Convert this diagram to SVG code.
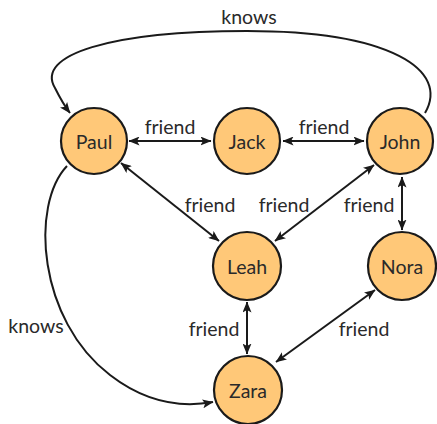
<svg xmlns="http://www.w3.org/2000/svg" width="437" height="424" viewBox="0 0 437 424">
<style>
.node circle{fill:#FFC878;stroke:#1a1a1a;stroke-width:2.2}
text{font-family:Lato,"Open Sans","Liberation Sans",sans-serif;font-size:19.5px;fill:#2a2a2a;text-anchor:middle;dominant-baseline:central}
.edge{fill:none;stroke:#1a1a1a;stroke-width:2}
</style>
<defs>
<marker id="ah" viewBox="0 0 11 9" refX="10.5" refY="4.5" markerWidth="11" markerHeight="9" markerUnits="userSpaceOnUse" orient="auto-start-reverse">
<path d="M0,0 L11,4.5 L0,9 L2.5,4.5 z" fill="#1a1a1a"/>
</marker>
</defs>
<rect width="437" height="424" fill="#fff"/>
<g id="connectors">
<path class="edge" d="M129,141 L211,141" marker-start="url(#ah)" marker-end="url(#ah)"/>
<path class="edge" d="M283,141 L364,141" marker-start="url(#ah)" marker-end="url(#ah)"/>
<path class="edge" d="M121,163 L219,241" marker-start="url(#ah)" marker-end="url(#ah)"/>
<path class="edge" d="M374,165 L275,241" marker-start="url(#ah)" marker-end="url(#ah)"/>
<path class="edge" d="M402,177 L402,230" marker-start="url(#ah)" marker-end="url(#ah)"/>
<path class="edge" d="M247,302 L247,354" marker-start="url(#ah)" marker-end="url(#ah)"/>
<path class="edge" d="M375,290 L276,362" marker-start="url(#ah)" marker-end="url(#ah)"/>
<path class="edge" d="M425,113 C450,70 390,31 247,31 C110,31 35,55 55,88 C59,96 63,104 70,113" marker-end="url(#ah)"/>
<path class="edge" d="M67,166 C30,205 38,320 110,375 C145,402 180,408 213,402" marker-end="url(#ah)"/>
<text x="170" y="126">friend</text>
<text x="324" y="126">friend</text>
<text x="210" y="204">friend</text>
<text x="284" y="204">friend</text>
<text x="369" y="204">friend</text>
<text x="214" y="328">friend</text>
<text x="364" y="328">friend</text>
<text x="249" y="16">knows</text>
<text x="36" y="325">knows</text>
</g>
<g id="Paul" class="node"><circle cx="94" cy="141" r="33"/><text x="94" y="141">Paul</text></g>
<g id="Jack" class="node"><circle cx="247" cy="141" r="33"/><text x="247" y="141">Jack</text></g>
<g id="John" class="node"><circle cx="400" cy="141" r="33"/><text x="400" y="141">John</text></g>
<g id="Leah" class="node"><circle cx="247" cy="266" r="34"/><text x="247" y="266">Leah</text></g>
<g id="Nora" class="node"><circle cx="402" cy="266" r="34"/><text x="402" y="266">Nora</text></g>
<g id="Zara" class="node"><circle cx="248" cy="390" r="34"/><text x="248" y="390">Zara</text></g>
</svg>
